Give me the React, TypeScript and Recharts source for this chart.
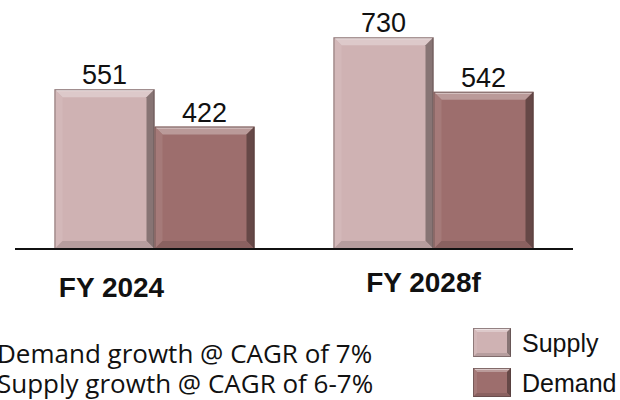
import { BarChart, Bar, XAxis, YAxis, LabelList, Legend } from "recharts";

const categories = ["FY 2024", "FY 2028f"];
const supply = [551, 730];
const demand = [422, 542];
const notes = ["Demand growth @ CAGR of 7%", "Supply growth @ CAGR of 6-7%"];
const seriesOrder = ["Supply", "Demand"];

const SUPPLY_COLOR = "#CFB2B3";
const DEMAND_COLOR = "#9D6E6D";

const data = categories.map((name, i) => ({
  name,
  supply: supply[i],
  demand: demand[i],
}));

// f > 0 mixes toward white, f < 0 toward black
function shade(hex: string, f: number) {
  const n = parseInt(hex.slice(1), 16);
  const ch = [(n >> 16) & 255, (n >> 8) & 255, n & 255].map((c) =>
    Math.round(f >= 0 ? c + (255 - c) * f : c * (1 + f))
  );
  return `rgb(${ch.join(",")})`;
}

function Bevel({ x, y, width, height, fill, b = 8 }: any) {
  if (!width || !height) return null;
  const e = Math.min(b, width / 4, height / 4);
  const x2 = x + width;
  const y2 = y + height;
  return (
    <g>
      <rect x={x} y={y} width={width} height={height} fill={fill} />
      <polygon
        points={`${x},${y} ${x2},${y} ${x2 - e},${y + e} ${x + e},${y + e}`}
        fill={shade(fill, 0.3)}
      />
      <polygon
        points={`${x},${y} ${x + e},${y + e} ${x + e},${y2 - e} ${x},${y2}`}
        fill={shade(fill, 0.08)}
      />
      <polygon
        points={`${x2},${y} ${x2},${y2} ${x2 - e},${y2 - e} ${x2 - e},${y + e}`}
        fill={shade(fill, -0.35)}
      />
      <polygon
        points={`${x},${y2} ${x + e},${y2 - e} ${x2 - e},${y2 - e} ${x2},${y2}`}
        fill={shade(fill, -0.12)}
      />
      <line x1={x + 2} y1={y + 1.5} x2={x2 - 2} y2={y + 1.5} stroke="#fff" strokeOpacity={0.45} />
      <rect
        x={x + 0.5}
        y={y + 0.5}
        width={width - 1}
        height={height - 1}
        fill="none"
        stroke="#4a3a3a"
        strokeOpacity={0.5}
      />
    </g>
  );
}

const tickShift = [
  { dx: -43, dy: 40 },
  { dx: -10, dy: 35 },
];

function CategoryTick({ x, y, payload, index }: any) {
  const s = tickShift[index] ?? { dx: 0, dy: 0 };
  return (
    <text
      x={x + s.dx}
      y={y + s.dy}
      textAnchor="middle"
      fontFamily="Liberation Sans, Arial, sans-serif"
      fontWeight="bold"
      fontSize={28}
      fill="#111"
    >
      {payload.value}
    </text>
  );
}

function LegendBoxes({ payload }: any) {
  const items = seriesOrder
    .map((name) => (payload ?? []).find((p: any) => p.value === name))
    .filter(Boolean);
  return (
    <svg width={150} height={72} style={{ display: "block" }}>
      {items.map((p: any, i: number) => (
        <g key={p.value}>
          <Bevel x={0} y={i * 40} width={38} height={29} fill={p.color} b={4} />
          <text
            x={49}
            y={i * 40 + 24}
            fontFamily="Liberation Sans, Arial, sans-serif"
            fontSize={25}
            fill="#111"
          >
            {p.value}
          </text>
        </g>
      ))}
    </svg>
  );
}

export default function App() {
  return (
    <div style={{ position: "absolute", left: 0, top: 0, width: 620, height: 400, background: "#fff" }}>
      <BarChart
        width={620}
        height={400}
        data={data}
        margin={{ top: 17, right: 47, left: 15, bottom: 91 }}
        barCategoryGap={39.5}
        barGap={0}
      >
        <XAxis
          dataKey="name"
          height={60}
          axisLine={{ stroke: "#111", strokeWidth: 2 }}
          tickLine={false}
          tick={<CategoryTick />}
          interval={0}
        />
        <YAxis hide domain={[0, 800]} />
        <Legend
          layout="horizontal"
          verticalAlign="middle"
          align="center"
          wrapperStyle={{ left: 473, top: 328, width: 150 }}
          content={<LegendBoxes />}
        />
        <Bar dataKey="supply" name="Supply" fill={SUPPLY_COLOR} shape={<Bevel />} isAnimationActive={false}>
          <LabelList
            dataKey="supply"
            position="top"
            fontSize={27}
            fontFamily="Liberation Sans, Arial, sans-serif"
            fill="#111"
          />
        </Bar>
        <Bar dataKey="demand" name="Demand" fill={DEMAND_COLOR} shape={<Bevel />} isAnimationActive={false}>
          <LabelList
            dataKey="demand"
            position="top"
            fontSize={27}
            fontFamily="Liberation Sans, Arial, sans-serif"
            fill="#111"
          />
        </Bar>
      </BarChart>
      <svg
        width={620}
        height={400}
        style={{ position: "absolute", left: 0, top: 0, pointerEvents: "none" }}
      >
        {notes.map((t, i) => (
          <text
            key={t}
            x={-3}
            y={363 + i * 30}
            fontFamily="Open Sans, sans-serif"
            fontSize={26}
            fill="#111"
          >
            {t}
          </text>
        ))}
      </svg>
    </div>
  );
}
